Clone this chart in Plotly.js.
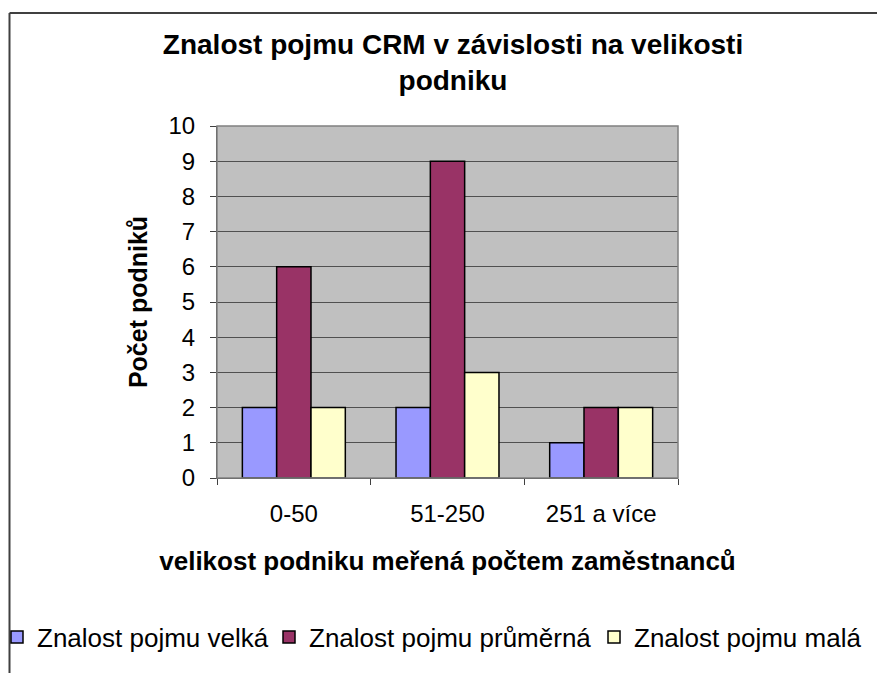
<!DOCTYPE html>
<html>
<head>
<meta charset="utf-8">
<script src="https://cdn.plot.ly/plotly-3.0.1.min.js"></script>
<style>
html,body{margin:0;padding:0;background:#fff;}
#chart{width:877px;height:673px;}
</style>
</head>
<body>
<div id="chart"></div>
<script>
const categories = ['0-50', '51-250', '251 a více'];
const seriesNames = ['Znalost pojmu velká', 'Znalost pojmu průměrná', 'Znalost pojmu malá'];
const velka = [2, 2, 1];
const prumerna = [6, 9, 2];
const mala = [2, 3, 2];
const yTicks = [0, 1, 2, 3, 4, 5, 6, 7, 8, 9, 10];

const FONT = '"Liberation Sans", Arial, sans-serif';
const colors = ['#9999FF', '#993366', '#FFFFCC'];
const values = [velka, prumerna, mala];
const legendIds = ['legend', 'legend2', 'legend3'];

const traces = values.map((v, i) => ({
  type: 'bar',
  name: seriesNames[i],
  legend: legendIds[i],
  x: categories,
  y: v,
  marker: {color: colors[i], line: {color: '#000000', width: 1.5}},
  hoverinfo: 'x+y+name'
}));

const L = 217, R = 199, T = 126, B = 195;
const W = 877 - L - R, H = 673 - T - B;
const px = x => (x - L) / W;
const py = y => 1 - (y - T) / H;

function legendAt(leftPx) {
  return {
    orientation: 'h',
    xref: 'paper', yref: 'paper',
    x: px(leftPx), xanchor: 'left',
    y: py(637), yanchor: 'middle',
    font: {family: FONT, size: 26, color: '#000000'},
    bgcolor: 'rgba(0,0,0,0)',
    borderwidth: 0,
    itemwidth: 30
  };
}

const layout = {
  width: 877,
  height: 673,
  margin: {l: L, r: R, t: T, b: B, pad: 0, autoexpand: false},
  paper_bgcolor: '#ffffff',
  plot_bgcolor: '#C0C0C0',
  font: {family: FONT, color: '#000000', size: 24},
  title: {
    text: '<b>Znalost pojmu CRM v závislosti na velikosti<br>podniku</b>',
    font: {family: FONT, size: 28, color: '#000000'},
    x: 453 / 877, xref: 'container', xanchor: 'center',
    y: 1 - 54 / 673, yref: 'container', yanchor: 'top'
  },
  barmode: 'group',
  bargap: 0.33,
  bargroupgap: 0,
  showlegend: true,
  legend: legendAt(-3),
  legend2: legendAt(269),
  legend3: legendAt(594),
  xaxis: {
    type: 'category',
    tickson: 'boundaries',
    ticks: 'outside',
    ticklen: 6,
    tickcolor: '#404040',
    tickwidth: 1,
    showline: true,
    linecolor: '#404040',
    linewidth: 1,
    showgrid: false,
    zeroline: false,
    ticklabelstandoff: 14,
    tickfont: {family: FONT, size: 24, color: '#000000'},
    title: {
      text: '<b>velikost podniku meřená počtem zaměstnanců</b>',
      font: {family: FONT, size: 26, color: '#000000'},
      standoff: 26
    },
    fixedrange: true
  },
  yaxis: {
    range: [0, 10],
    tickvals: yTicks,
    ticktext: yTicks.map(String),
    ticks: 'outside',
    ticklen: 6,
    tickcolor: '#404040',
    tickwidth: 1,
    showline: true,
    linecolor: '#404040',
    linewidth: 1,
    showgrid: true,
    gridcolor: '#505050',
    gridwidth: 1,
    zeroline: false,
    ticklabelstandoff: 10,
    tickfont: {family: FONT, size: 24, color: '#000000'},
    title: {
      text: '<b>Počet podniků</b>',
      font: {family: FONT, size: 25, color: '#000000'},
      standoff: 13
    },
    fixedrange: true
  },
  shapes: [
    {type: 'rect', xref: 'paper', yref: 'paper', x0: 0, x1: 1, y0: 0, y1: 1,
     line: {color: '#808080', width: 1.5}, fillcolor: 'rgba(0,0,0,0)', layer: 'above'},
    {type: 'line', xref: 'paper', yref: 'paper', x0: px(9.5), x1: px(9.5), y0: py(13), y1: py(700),
     line: {color: '#404040', width: 2}},
    {type: 'line', xref: 'paper', yref: 'paper', x0: px(9.5), x1: px(900), y0: py(13), y1: py(13),
     line: {color: '#404040', width: 2}}
  ]
};

Plotly.newPlot('chart', traces, layout, {displayModeBar: false, staticPlot: false});
</script>
</body>
</html>
